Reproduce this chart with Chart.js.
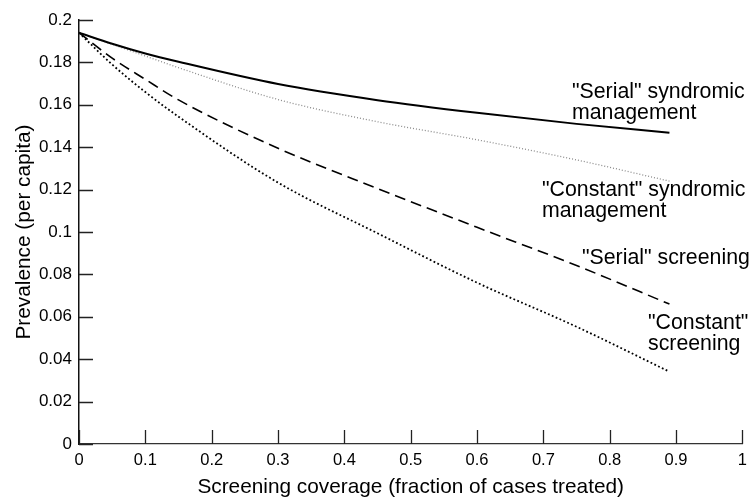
<!DOCTYPE html>
<html>
<head>
<meta charset="utf-8">
<script src="https://cdn.jsdelivr.net/npm/chart.js@4/dist/chart.umd.min.js"></script>
<style>
  html, body { margin: 0; padding: 0; background: #fff; }
  #wrap { width: 754px; height: 498px; position: relative; }
</style>
</head>
<body>
<div id="wrap"><canvas id="chart"></canvas></div>
<script>
// screening coverage (x) and prevalence per capita for each strategy
const coverage = [0, 0.05, 0.1, 0.15, 0.3, 0.45, 0.6, 0.75, 0.89];
const serialSyndromic = [0.194, 0.1888, 0.1842, 0.1803, 0.1698, 0.1622, 0.1562, 0.151, 0.1468];
const constantSyndromic = [0.194, 0.1885, 0.183, 0.1775, 0.1625, 0.152, 0.1435, 0.134, 0.124];
const serialScreening = [0.194, 0.182, 0.172, 0.1623, 0.1395, 0.1205, 0.1022, 0.0842, 0.066];
const constantScreening = [0.194, 0.179, 0.166, 0.1544, 0.1233, 0.0994, 0.0761, 0.0553, 0.0341];

const xTicks = [0, 0.1, 0.2, 0.3, 0.4, 0.5, 0.6, 0.7, 0.8, 0.9, 1];
const yTicks = [0, 0.02, 0.04, 0.06, 0.08, 0.1, 0.12, 0.14, 0.16, 0.18, 0.2];

const FONT = "'Liberation Sans', Arial, Helvetica, sans-serif";
Chart.defaults.font.family = FONT;
Chart.defaults.color = "#000";

const toPoints = (ys) => coverage.map((x, i) => ({ x: x, y: ys[i] }));

// inward tick marks, axis titles and the curve labels
const decorations = {
  id: "decorations",
  afterDraw(chart) {
    const { ctx, chartArea, scales } = chart;
    const xs = scales.x, ys = scales.y;
    ctx.save();
    ctx.strokeStyle = "#222";
    ctx.lineWidth = 1.3;
    ctx.beginPath();
    yTicks.forEach((v) => {
      const py = Math.round(ys.getPixelForValue(v)) + 0.5;
      ctx.moveTo(chartArea.left, py);
      ctx.lineTo(chartArea.left + 14, py);
    });
    xTicks.forEach((v) => {
      const px = Math.round(xs.getPixelForValue(v)) + 0.5;
      ctx.moveTo(px, chartArea.bottom);
      ctx.lineTo(px, chartArea.bottom - 14);
    });
    ctx.stroke();

    ctx.fillStyle = "#000";
    ctx.font = "20.8px " + FONT;
    ctx.textBaseline = "alphabetic";
    ctx.textAlign = "center";
    ctx.fillText("Screening coverage (fraction of cases treated)", (chartArea.left + chartArea.right) / 2, 492.5);
    ctx.save();
    ctx.translate(29.5, (chartArea.top + chartArea.bottom) / 2);
    ctx.rotate(-Math.PI / 2);
    ctx.fillText("Prevalence (per capita)", 0, 0);
    ctx.restore();

    ctx.textAlign = "left";
    ctx.font = "21.3px " + FONT;
    const labels = [
      [572, 97.5, "\"Serial\" syndromic"],
      [572, 119, "management"],
      [542, 196, "\"Constant\" syndromic"],
      [542, 217, "management"],
      [582, 264, "\"Serial\" screening"],
      [648, 329, "\"Constant\""],
      [648, 349.5, "screening"],
    ];
    labels.forEach(([x, y, t]) => ctx.fillText(t, x, y));
    ctx.restore();
  },
};

new Chart(document.getElementById("chart"), {
  type: "line",
  data: {
    datasets: [
      {
        label: "\"Serial\" syndromic management",
        data: toPoints(serialSyndromic),
        borderColor: "#000",
        borderWidth: 2,
      },
      {
        label: "\"Constant\" syndromic management",
        data: toPoints(constantSyndromic),
        borderColor: "#8a8a8a",
        borderWidth: 1.3,
        borderDash: [1, 2],
      },
      {
        label: "\"Serial\" screening",
        data: toPoints(serialScreening),
        borderColor: "#000",
        borderWidth: 1.6,
        borderDash: [11, 6],
      },
      {
        label: "\"Constant\" screening",
        data: toPoints(constantScreening),
        borderColor: "#000",
        borderWidth: 1.8,
        borderDash: [1.8, 2.4],
      },
    ],
  },
  options: {
    responsive: true,
    maintainAspectRatio: false,
    animation: false,
    layout: { padding: { top: 20, right: 6, left: 0, bottom: 0 } },
    elements: {
      point: { radius: 0 },
      line: { cubicInterpolationMode: "monotone", fill: false },
    },
    plugins: { legend: { display: false }, tooltip: { enabled: false } },
    scales: {
      x: {
        type: "linear",
        min: 0,
        max: 1,
        afterFit: (s) => { s.height = 54; },
        afterBuildTicks: (s) => { s.ticks = xTicks.map((v) => ({ value: v })); },
        grid: { display: false, drawTicks: false },
        border: { display: true, color: "#333", width: 1.3 },
        ticks: {
          padding: 7,
          maxRotation: 0,
          font: { size: 16.5 },
          callback: (v) => String(Number(v.toFixed(1))),
        },
      },
      y: {
        min: 0,
        max: 0.2,
        afterFit: (s) => { s.width = 79; },
        afterBuildTicks: (s) => { s.ticks = yTicks.map((v) => ({ value: v })); },
        grid: { display: false, drawTicks: false },
        border: { display: true, color: "#111", width: 1.5 },
        ticks: {
          padding: 7,
          font: { size: 17 },
          callback: (v) => String(Number(v.toFixed(2))),
        },
      },
    },
  },
  plugins: [decorations],
});
</script>
</body>
</html>
